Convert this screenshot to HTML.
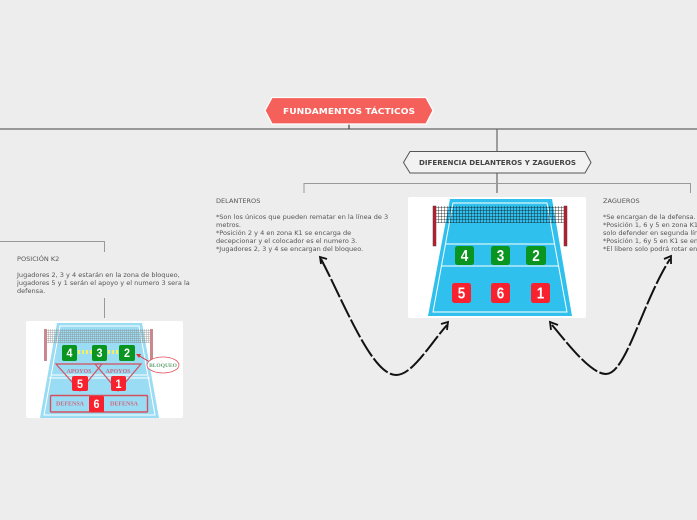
<!DOCTYPE html>
<html><head><meta charset="utf-8"><style>
html,body{margin:0;padding:0;background:#ededed;width:697px;height:520px;overflow:hidden}
svg{display:block}
.t{font-family:"DejaVu Sans",sans-serif;font-size:6.55px;fill:#555}
.d{font-family:"Liberation Sans",sans-serif;font-weight:bold;font-size:15.5px;fill:#fff;text-anchor:middle}
.s{font-family:"Liberation Sans",sans-serif;font-weight:bold;font-size:11.5px;fill:#fff;text-anchor:middle}
.l{font-family:"Liberation Serif",serif;font-weight:bold;font-size:6px;fill:#cc6a82;text-anchor:middle}
</style></head><body>
<svg width="697" height="520" viewBox="0 0 697 520" xmlns="http://www.w3.org/2000/svg">
<defs>
<pattern id="g" width="3" height="3" patternUnits="userSpaceOnUse"><path d="M0 0H3M0 0V3" stroke="#111" stroke-width=".8" fill="none"/></pattern>
<pattern id="g2" width="2" height="2" patternUnits="userSpaceOnUse"><path d="M0 0H2M0 0V2" stroke="#888" stroke-width=".7" fill="none"/></pattern>
</defs>
<rect width="697" height="520" fill="#ededed"/>
<!-- connectors -->
<g fill="none" stroke="#666" stroke-width="1.2">
<path d="M0 129H697"/><path d="M349 124V129" stroke="#444"/><path d="M497 129V151"/><path d="M497 173V193"/>
</g>
<g fill="none" stroke="#999" stroke-width="1">
<path d="M304 193V183.500H690.500V193"/>
<path d="M0 241.500H104.500V252"/><path d="M104.500 298V318"/>
</g>
<!-- title -->
<polygon points="272,97.500 426,97.500 433,110.500 426,124 272,124 265,110.500" fill="#f5605a" stroke="#fff" stroke-width="1.300"/>
<text x="283" y="114" textLength="132" lengthAdjust="spacingAndGlyphs" style="font-family:'DejaVu Sans',sans-serif;font-weight:bold;font-size:8px;fill:#fff">FUNDAMENTOS TÁCTICOS</text>
<polygon points="410,151.500 585,151.500 591,162.500 585,173 410,173 403.500,162.500" fill="#f2f2f2" stroke="#555" stroke-width="1"/>
<text x="419" y="165" textLength="157" lengthAdjust="spacingAndGlyphs" style="font-family:'DejaVu Sans',sans-serif;font-weight:bold;font-size:7px;fill:#444">DIFERENCIA DELANTEROS Y ZAGUEROS</text>
<!-- texts -->
<g class="t">
<text x="216" y="203">DELANTEROS</text>
<text x="216" y="219">*Son los únicos que pueden rematar en la línea de 3</text>
<text x="216" y="227">metros.</text>
<text x="216" y="235">*Posición 2 y 4 en zona K1 se encarga de</text>
<text x="216" y="243">decepcionar y el colocador es el numero 3.</text>
<text x="216" y="251">*Jugadores 2, 3 y 4 se encargan del bloqueo.</text>
<text x="603" y="203">ZAGUEROS</text>
<text x="603" y="219">*Se encargan de la defensa.</text>
<text x="603" y="227">*Posición 1, 6 y 5 en zona K1 se encargan de</text>
<text x="603" y="235">solo defender en segunda línea.</text>
<text x="603" y="243">*Posición 1, 6y 5 en K1 se encargan de</text>
<text x="603" y="251">*El libero solo podrá rotar en zona</text>
<text x="17" y="261">POSICIÓN K2</text>
<text x="17" y="277">Jugadores 2, 3 y 4 estarán en la zona de bloqueo,</text>
<text x="17" y="285">jugadores 5 y 1 serán el apoyo y el numero 3 sera la</text>
<text x="17" y="293">defensa.</text>
</g>
<!-- main court -->
<rect x="408" y="197" width="178" height="121" rx="2" fill="#fff"/>
<polygon points="450,199 552,199 572,316 428,316" fill="#2fc0ee"/>
<g fill="none" stroke="#fff" stroke-width="1">
<polygon points="453,203 547,203 567,312 433,312"/>
<path d="M446 244H555M442 266H558"/>
</g>
<rect x="434" y="206" width="132" height="17" fill="url(#g)"/>
<rect x="433" y="206" width="3" height="40" fill="#c2182b" stroke="#444" stroke-width=".5"/>
<rect x="564" y="206" width="3" height="40" fill="#c2182b" stroke="#444" stroke-width=".5"/>
<g fill="#0a9420">
<rect x="455" y="246" width="19" height="19" rx="2.500"/><rect x="491" y="246" width="19" height="19" rx="2.500"/><rect x="526" y="246" width="20" height="19" rx="2.500"/>
</g>
<g fill="#f8222e">
<rect x="452" y="283" width="19" height="20" rx="2.500"/><rect x="491" y="283" width="19" height="20" rx="2.500"/><rect x="531" y="283" width="19" height="20" rx="2.500"/>
</g>
<g class="d">
<text x="464.500" y="261" textLength="7.500" lengthAdjust="spacingAndGlyphs">4</text><text x="500.500" y="261" textLength="7.500" lengthAdjust="spacingAndGlyphs">3</text><text x="536" y="261" textLength="7.500" lengthAdjust="spacingAndGlyphs">2</text>
<text x="461.500" y="298.500" textLength="7.500" lengthAdjust="spacingAndGlyphs">5</text><text x="500.500" y="298.500" textLength="7.500" lengthAdjust="spacingAndGlyphs">6</text><text x="540.500" y="298.500" textLength="7.500" lengthAdjust="spacingAndGlyphs">1</text>
</g>
<!-- k2 court -->
<rect x="26" y="321" width="157" height="97" rx="2" fill="#fff"/>
<polygon points="57,323 142,323 159,418 40,418" fill="#9adcf3"/>
<g fill="none" stroke="#fff" stroke-width="1">
<polygon points="60,326 139,326 155,415 44,415"/>
<path d="M52 375H147M49 378H150"/>
</g>
<rect x="45" y="329" width="108" height="14" fill="url(#g2)"/>
<rect x="44" y="329" width="3" height="32" fill="#c9888f"/><rect x="150" y="329" width="3" height="32" fill="#c9888f"/>
<path d="M78 352H92M108 352H119" stroke="#f2f060" stroke-width="4" stroke-dasharray="2 2" fill="none"/>
<g fill="none" stroke="#d4505f" stroke-width="1.200">
<polygon points="56,364 102,364 80,391"/><polygon points="95,364 141,364 118,391"/>
<rect x="50.500" y="395.500" width="97" height="16.500" rx="1" stroke-width="1.400"/>
</g>
<g fill="#0a9420"><rect x="62" y="345" width="15" height="16" rx="2"/><rect x="92" y="345" width="15" height="16" rx="2"/><rect x="119" y="345" width="16" height="16" rx="2"/></g>
<g fill="#f8222e"><rect x="72" y="376" width="16" height="15" rx="2"/><rect x="111" y="376" width="15" height="15" rx="2"/><rect x="89" y="396" width="15" height="16" rx="1"/></g>
<g class="s">
<text x="69.500" y="357" textLength="6" lengthAdjust="spacingAndGlyphs">4</text><text x="99.500" y="357" textLength="6" lengthAdjust="spacingAndGlyphs">3</text><text x="127" y="357" textLength="6" lengthAdjust="spacingAndGlyphs">2</text>
<text x="80" y="388" textLength="6" lengthAdjust="spacingAndGlyphs">5</text><text x="118.500" y="388" textLength="6" lengthAdjust="spacingAndGlyphs">1</text><text x="96.500" y="408" textLength="6" lengthAdjust="spacingAndGlyphs">6</text>
</g>
<text class="l" x="79" y="373">APOYOS</text><text class="l" x="118" y="373">APOYOS</text>
<text class="l" x="70" y="405.500">DEFENSA</text><text class="l" x="124" y="405.500">DEFENSA</text>
<ellipse cx="163" cy="365" rx="16" ry="8" fill="#fff" stroke="#e0505a" stroke-width=".8"/>
<text class="l" x="163" y="367" style="fill:#5f9e6e;font-size:5.500px">BLOQUEO</text>
<path d="M148 361L138 355" stroke="#e0303a" stroke-width="1" fill="none"/><polygon points="136,354 141,354 139,358" fill="#e0303a"/>
<!-- curved arrows -->
<g fill="none" stroke="#111" stroke-width="2">
<path stroke-dasharray="20 2.500" d="M321 259C345 305 372 375 396 375C412 375 428 347 447 325"/>
<path stroke-dasharray="20 2.500" d="M552 325C565 340 590 374 606 374C626 374 642 303 670 259"/>
<path stroke-width="1.800" d="M321 264L320 257L327 259"/>
<path stroke-width="1.800" d="M441 324L448 322L447 330"/>
<path stroke-width="1.800" d="M551 330L550 322L558 325"/>
<path stroke-width="1.800" d="M664 259L671 256L671 264"/>
</g>
</svg>
</body></html>
